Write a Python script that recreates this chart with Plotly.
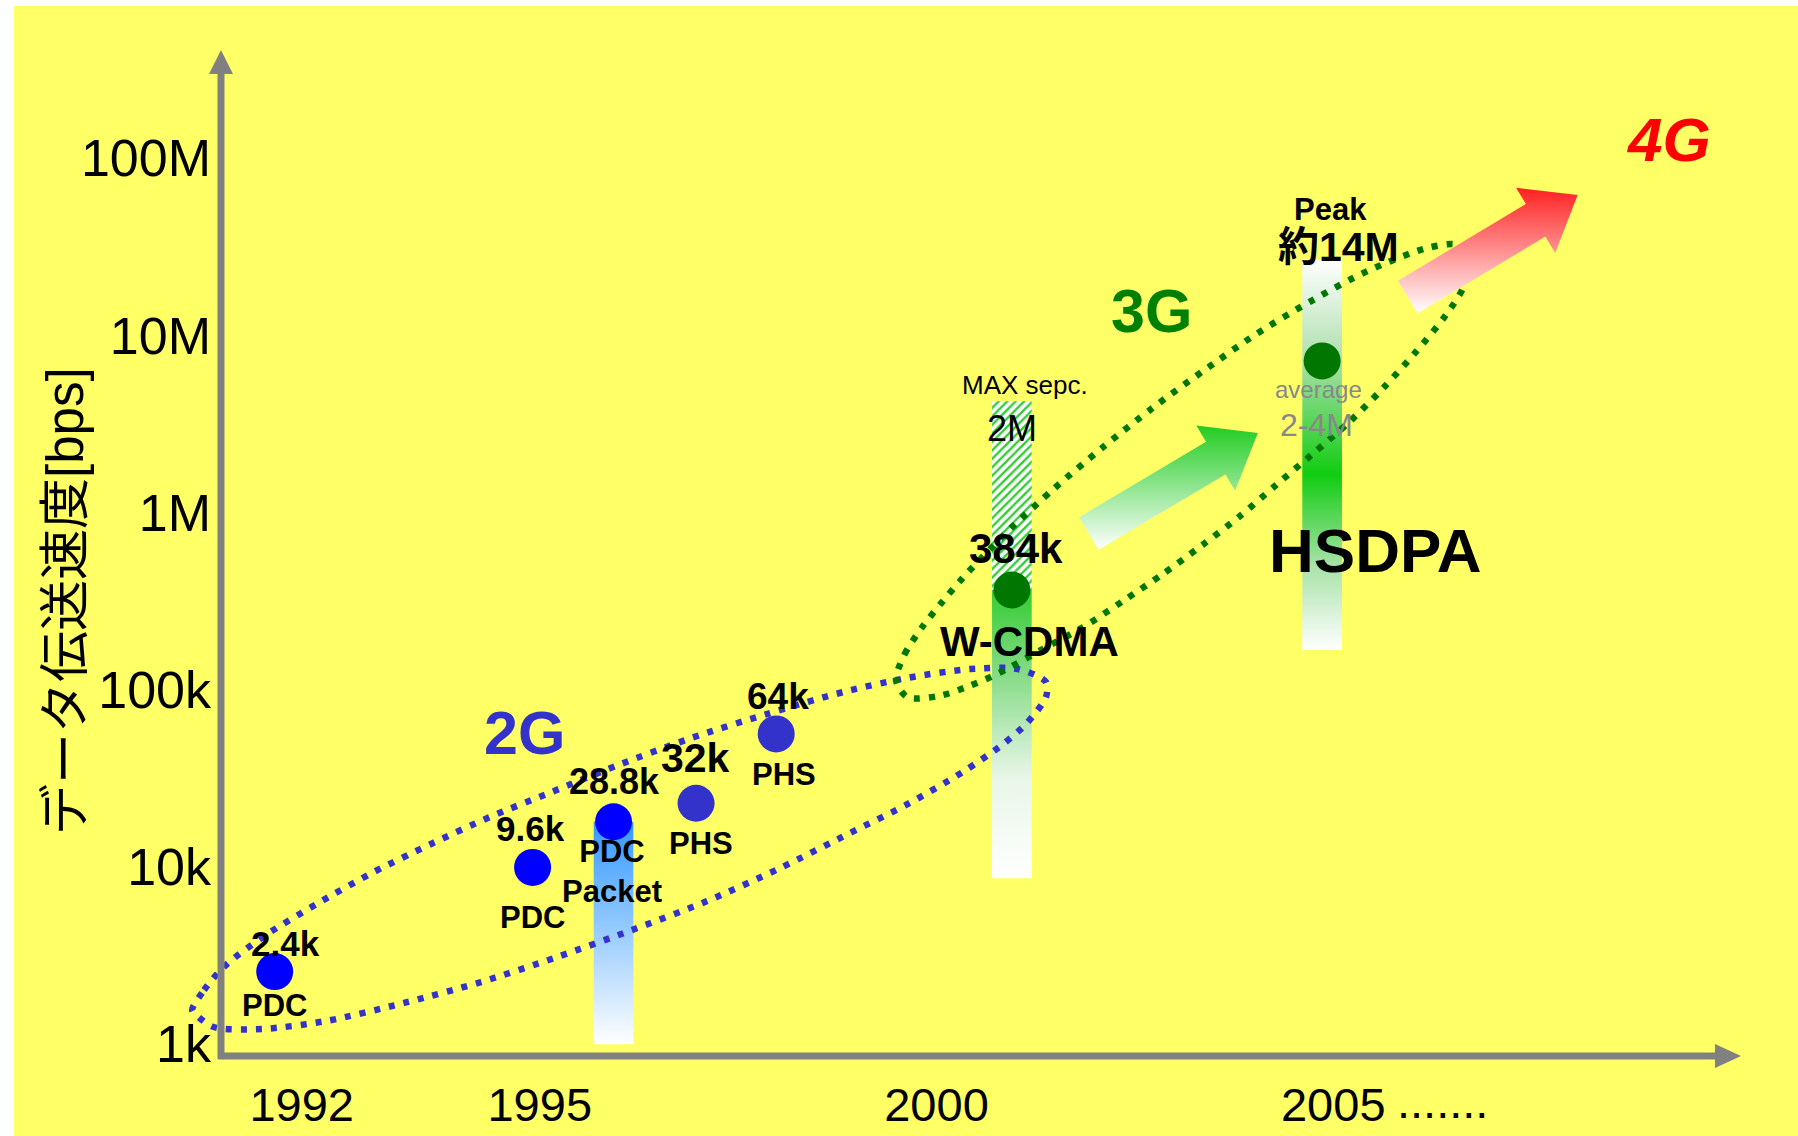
import numpy as np
import plotly.graph_objects as go

W, H = 1798, 1136
X0, X1 = 1988.198, 2010.857      # year range across the figure
Y0, Y1 = 2.482, 8.893            # log10(bps) range across the figure
FONT = "Liberation Sans, Arial, Noto Sans CJK JP, sans-serif"

# ---------------- data ----------------
tech_years = [1991.66, 1994.91, 1995.93, 1996.97, 1997.98, 2000.95, 2004.86]
tech_speed_bps = [2570, 9950, 18000, 22900, 56400, 366000, 7180000]
tech_colors = ["#0000ff", "#0000ff", "#0000ff", "#3333cc", "#3333cc", "#007700", "#007700"]
value_labels = ["2.4k", "9.6k", "28.8k", "32k", "64k", "384k"]
system_labels = ["PDC", "PDC", "PDC<br>Packet", "PHS", "PHS", "W-CDMA"]

bar_names = ["PDC Packet", "W-CDMA", "HSDPA"]
bar_years = [1995.93, 2000.95, 2004.86]
bar_low_bps = [1000, 8650, 168000]
bar_high_bps = [18000, 366000, 26800000]
spec_low_bps, spec_high_bps = 366000, 4250000   # W-CDMA max spec (hatched)

tick_vals = [1e3, 1e4, 1e5, 1e6, 1e7, 1e8]
tick_text = ["1k", "10k", "100k", "1M", "10M", "100M"]
year_ticks = [1992, 1995, 2000, 2005]
year_text = ["1992", "1995", "2000", "2005"]

# generation regions (year, log10 bps)
g2_year = [1990.62, 1990.77, 1991.03, 1991.51, 1992.21, 1992.91, 1993.63, 1994.37, 1995.12, 1995.96,
           1996.91, 1997.86, 1998.83, 1999.63, 2000.42, 2001.03, 2001.38, 2001.38, 2001.14, 2000.84,
           2000.33, 1999.64, 1998.91, 1998.03, 1997.11, 1996.16, 1995.22, 1994.26, 1993.29, 1992.31,
           1991.50, 1990.89, 1990.67, 1990.62]
g2_log = [3.193, 3.306, 3.441, 3.605, 3.797, 3.972, 4.130, 4.282, 4.418, 4.570,
          4.728, 4.863, 4.988, 5.067, 5.117, 5.117, 5.044, 4.959, 4.813, 4.694,
          4.536, 4.356, 4.192, 3.994, 3.808, 3.644, 3.492, 3.351, 3.233, 3.131,
          3.086, 3.097, 3.165, 3.193]
g3_year = [1999.49, 1999.60, 1999.82, 2000.07, 2000.33, 2000.89, 2001.49, 2002.10, 2002.72, 2003.36,
           2004.03, 2004.72, 2005.43, 2006.18, 2006.57, 2006.69, 2006.64, 2006.42, 2006.03, 2005.63,
           2005.20, 2004.74, 2004.28, 2003.81, 2003.35, 2002.85, 2002.35, 2001.85, 2001.32, 2000.79,
           2000.41, 2000.03, 1999.63, 1999.49]
g3_log = [5.055, 5.202, 5.354, 5.495, 5.631, 5.891, 6.139, 6.370, 6.590, 6.799,
          7.008, 7.194, 7.363, 7.493, 7.510, 7.409, 7.273, 7.115, 6.901, 6.703,
          6.511, 6.331, 6.156, 5.975, 5.817, 5.653, 5.501, 5.354, 5.225, 5.095,
          5.021, 4.965, 4.959, 5.055]

# trend arrows: (tail year, tail log10) -> (tip year, tip log10)
arrow_3g = ((2001.92, 5.882), (2004.05, 6.449))
arrow_4g = ((2005.94, 7.217), (2008.08, 7.792))

# ---------------- helpers ----------------
PX_YEAR = W / (X1 - X0)
PX_DEC = H / (Y1 - Y0)


def to_px(yr, lg):
    return (yr - X0) * PX_YEAR, (Y1 - lg) * PX_DEC


def from_px(px, py):
    return X0 + px / PX_YEAR, Y1 - py / PX_DEC


def arrow_polygon(tail, tip, shaft_half=19, head_half=38, head_len=49):
    tx, ty = to_px(*tail)
    hx, hy = to_px(*tip)
    dx, dy = hx - tx, hy - ty
    n = np.hypot(dx, dy)
    ux, uy = dx / n, dy / n
    vx, vy = -uy, ux
    bx, by = hx - ux * head_len, hy - uy * head_len
    pts = [(tx + vx * shaft_half, ty + vy * shaft_half),
           (bx + vx * shaft_half, by + vy * shaft_half),
           (bx + vx * head_half, by + vy * head_half),
           (hx, hy),
           (bx - vx * head_half, by - vy * head_half),
           (bx - vx * shaft_half, by - vy * shaft_half),
           (tx - vx * shaft_half, ty - vy * shaft_half)]
    pts.append(pts[0])
    xs, ys = [], []
    for p in pts:
        a, b = from_px(*p)
        xs.append(a)
        ys.append(10 ** b)
    return xs, ys


fig = go.Figure()

# ---------------- bars ----------------
bar_scales = [
    [[0, "#ffffff"], [1, "#3399ff"]],
    [[0, "#ffffff"], [0.35, "#e8f6e8"], [0.7, "#88dc88"], [1, "#33cc33"]],
    [[0, "#ffffff"], [0.22, "#a6e2a6"], [0.45, "#11cc11"], [0.75, "#b0e0b0"], [1, "#ffffff"]],
]
BAR_W = 0.5
for x, lo, hi, cs in zip(bar_years, bar_low_bps, bar_high_bps, bar_scales):
    fig.add_trace(go.Scatter(
        x=[x - BAR_W / 2, x + BAR_W / 2, x + BAR_W / 2, x - BAR_W / 2, x - BAR_W / 2],
        y=[lo, lo, hi, hi, lo], mode="lines", fill="toself", line=dict(width=0),
        fillgradient=dict(type="vertical", colorscale=cs),
        hoverinfo="skip", showlegend=False))

x = bar_years[1]
fig.add_trace(go.Scatter(
    x=[x - BAR_W / 2, x + BAR_W / 2, x + BAR_W / 2, x - BAR_W / 2, x - BAR_W / 2],
    y=[spec_low_bps, spec_low_bps, spec_high_bps, spec_high_bps, spec_low_bps],
    mode="lines", fill="toself", line=dict(width=0), fillcolor="white",
    fillpattern=dict(shape="/", fgcolor="#33cc33", bgcolor="white", size=6, solidity=0.4),
    hoverinfo="skip", showlegend=False))

# ---------------- generation regions ----------------
for xs, ls, col in [(g2_year, g2_log, "#3333cc"), (g3_year, g3_log, "#007700")]:
    fig.add_trace(go.Scatter(
        x=xs, y=10 ** np.array(ls), mode="lines",
        line=dict(color=col, width=6.5, dash="6px,9px", shape="spline", smoothing=0.8),
        hoverinfo="skip", showlegend=False))

# ---------------- arrows ----------------
for arr, col in [(arrow_3g, "#22cc22"), (arrow_4g, "#ff2020")]:
    xs, ys = arrow_polygon(*arr)
    fig.add_trace(go.Scatter(
        x=xs, y=ys, mode="lines", fill="toself", line=dict(width=0),
        fillgradient=dict(type="vertical", colorscale=[[0, "#ffffff"], [1, col]]),
        hoverinfo="skip", showlegend=False))

# ---------------- points ----------------
fig.add_trace(go.Scatter(
    x=tech_years, y=tech_speed_bps, mode="markers",
    marker=dict(size=37, color=tech_colors, line=dict(width=0)),
    hoverinfo="skip", showlegend=False))

# ---------------- labels ----------------
ann = []


def label(x, lg, text, size, dx=0, dy=0, bold=True, color="black", italic=False, anchor="center"):
    ann.append(dict(x=x, y=lg, text=text, showarrow=False, xanchor=anchor, yanchor="middle",
                    xshift=dx, yshift=-dy,
                    font=dict(family=FONT, size=size, color=color,
                              weight="bold" if bold else "normal",
                              style="italic" if italic else "normal")))


val_off = [(11, -28), (-2, -39), (1, -40), (-1, -45), (2, -37), (4, -41)]
val_size = [35, 35, 36, 41, 37, 42]
sys_off = [(0, 34), (0, 50), (-2, 50), (5, 40), (8, 41), (18, 52)]
sys_size = [31, 31, 31, 31, 31, 42]
for i in range(6):
    lg = np.log10(tech_speed_bps[i])
    label(tech_years[i], lg, value_labels[i], val_size[i], *val_off[i])
    label(tech_years[i], lg, system_labels[i], sys_size[i], *sys_off[i])

label(1994.81, 4.756, "2G", 61, color="#3333cc")
label(2002.71, 7.138, "3G", 61, color="#008000")
label(2009.22, 8.103, "4G", 62, color="#ff0000", italic=True)
label(2001.12, 6.730, "MAX sepc.", 26, bold=False, dy=2)
label(2000.95, 6.494, "2M", 36, bold=False, dy=3)
label(2004.96, 7.723, "Peak", 31, dy=2)
label(2005.06, 7.516, "約14M", 41, dy=3)
label(2004.81, 6.696, "average", 24, bold=False, color="#888888")
label(2004.79, 6.513, "2-4M", 32, bold=False, color="#888888", dy=3)
label(2005.52, 5.808, "HSDPA", 62, dy=4)

ann.append(dict(x=2005, y=1 - 1101 / H, xref="x", yref="paper", text=".......",
                showarrow=False, xanchor="left", yanchor="middle", xshift=62,
                font=dict(family=FONT, size=47, color="black")))
ann.append(dict(x=65 / W, y=1 - 601 / H, xref="paper", yref="paper", text="データ伝送速度[bps]",
                textangle=-90, showarrow=False, xanchor="center", yanchor="middle",
                font=dict(family=FONT, size=51, color="black")))

# ---------------- axes lines with arrowheads ----------------
AX_C = "#808080"
ax_x = 221 / W
ax_y = 1 - 1056 / H
shapes = [
    dict(type="rect", xref="paper", yref="paper", x0=14 / W, x1=1, y0=0, y1=1 - 6 / H,
         fillcolor="#ffff66", line=dict(width=0), layer="below"),
    dict(type="line", xref="paper", yref="paper", x0=ax_x, x1=ax_x, y0=1 - 1059 / H, y1=1 - 72 / H,
         line=dict(color=AX_C, width=7)),
    dict(type="path", xref="paper", yref="paper",
         path=f"M {209 / W},{1 - 74 / H} L {233 / W},{1 - 74 / H} L {ax_x},{1 - 50 / H} Z",
         fillcolor=AX_C, line=dict(width=0)),
    dict(type="line", xref="paper", yref="paper", x0=218 / W, x1=1718 / W, y0=ax_y, y1=ax_y,
         line=dict(color=AX_C, width=7)),
    dict(type="path", xref="paper", yref="paper",
         path=f"M {1715 / W},{1 - 1044 / H} L {1715 / W},{1 - 1068 / H} L {1741 / W},{ax_y} Z",
         fillcolor=AX_C, line=dict(width=0)),
]

fig.update_layout(
    width=W, height=H, margin=dict(l=0, r=0, t=0, b=0, autoexpand=False),
    template="none", paper_bgcolor="white", plot_bgcolor="rgba(0,0,0,0)",
    showlegend=False, hovermode=False, shapes=shapes, annotations=ann,
    xaxis=dict(range=[X0, X1], domain=[0, 1], anchor="free", position=ax_y,
               tickvals=year_ticks, ticktext=year_text, ticks="", showgrid=False,
               zeroline=False, showline=False, automargin=False, ticklabelstandoff=17,
               tickfont=dict(family=FONT, size=47, color="black")),
    yaxis=dict(type="log", range=[Y0, Y1], domain=[0, 1], anchor="free", position=ax_x,
               tickvals=tick_vals, ticktext=tick_text, ticks="", showgrid=False,
               zeroline=False, showline=False, automargin=False, ticklabelstandoff=10,
               tickfont=dict(family=FONT, size=52, color="black")),
)

fig.write_html("out.html", config={"displayModeBar": False},
               post_script="document.body.style.margin='0px';document.body.style.overflow='hidden';")
